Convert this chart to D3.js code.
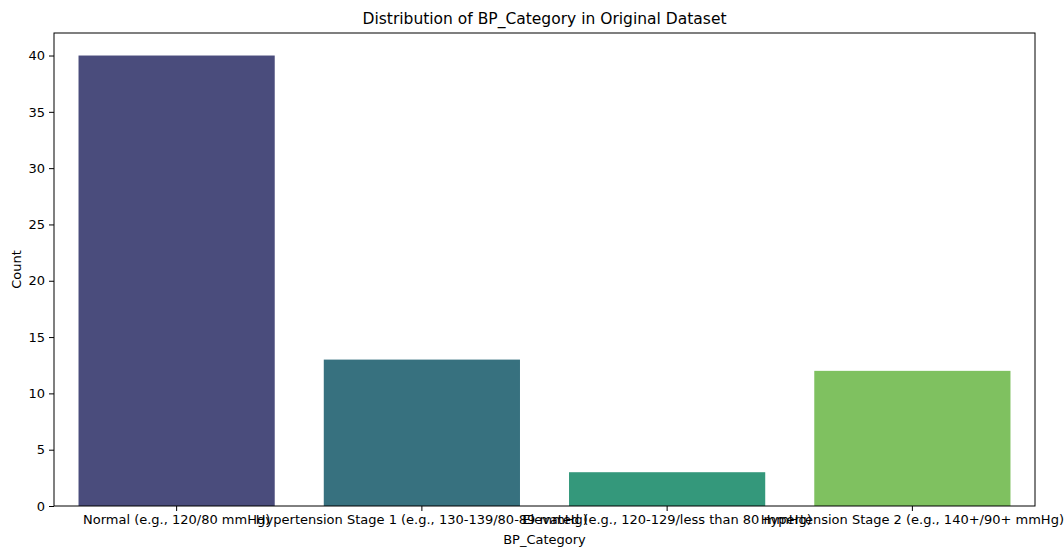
<!DOCTYPE html>
<html><head><meta charset="utf-8">
<script src="https://cdn.jsdelivr.net/npm/d3@7"></script>
<style>body{margin:0;background:#fff;} text{font-family:"DejaVu Sans",sans-serif;}</style>
</head><body>
<svg id="chart" width="1064" height="548"></svg>
<script>
const categories = ["Normal (e.g., 120/80 mmHg)", "Hypertension Stage 1 (e.g., 130-139/80-89 mmHg)", "Elevated (e.g., 120-129/less than 80 mmHg)", "Hypertension Stage 2 (e.g., 140+/90+ mmHg)"];
const counts = [40, 13, 3, 12];
const colors = ["#4a4c7c", "#37717f", "#34987b", "#7fc160"];
const yTicks = [0, 5, 10, 15, 20, 25, 30, 35, 40];

const svg = d3.select("#chart");
const L = 54, R = 1035, T = 33, B = 506;
const x = d3.scaleBand().domain(categories).range([L, R]).paddingInner(0.2).paddingOuter(0.1);
const y = d3.scaleLinear().domain([0, 42]).range([B, T]);

svg.selectAll("rect.bar").data(categories).enter().append("rect")
  .attr("class", "bar")
  .attr("x", d => x(d)).attr("width", x.bandwidth())
  .attr("y", (d, i) => y(counts[i])).attr("height", (d, i) => y(0) - y(counts[i]))
  .attr("fill", (d, i) => colors[i]);

const fs = "13px";
const xa = svg.append("g").attr("transform", `translate(0,${B})`)
  .call(d3.axisBottom(x).tickSize(5).tickPadding(4).tickSizeOuter(0));
xa.select(".domain").remove();
xa.selectAll("text").style("font-size", fs).attr("fill", "#000");
xa.selectAll("line").attr("stroke", "#000");

const ya = svg.append("g").attr("transform", `translate(${L},0)`)
  .call(d3.axisLeft(y).tickValues(yTicks).tickSize(5).tickPadding(4).tickSizeOuter(0));
ya.select(".domain").remove();
ya.selectAll("text").style("font-size", fs).attr("fill", "#000");
ya.selectAll("line").attr("stroke", "#000");

svg.append("rect").attr("x", L).attr("y", T).attr("width", R - L).attr("height", B - T)
  .attr("fill", "none").attr("stroke", "#000").attr("stroke-width", 1);

svg.append("text").attr("x", (L + R) / 2).attr("y", 24).attr("text-anchor", "middle")
  .style("font-size", "15.5px").text("Distribution of BP_Category in Original Dataset");
svg.append("text").attr("x", (L + R) / 2).attr("y", 544).attr("text-anchor", "middle")
  .style("font-size", fs).text("BP_Category");
svg.append("text").attr("transform", `translate(21,${(T + B) / 2}) rotate(-90)`).attr("text-anchor", "middle")
  .style("font-size", fs).text("Count");
</script>
</body></html>
